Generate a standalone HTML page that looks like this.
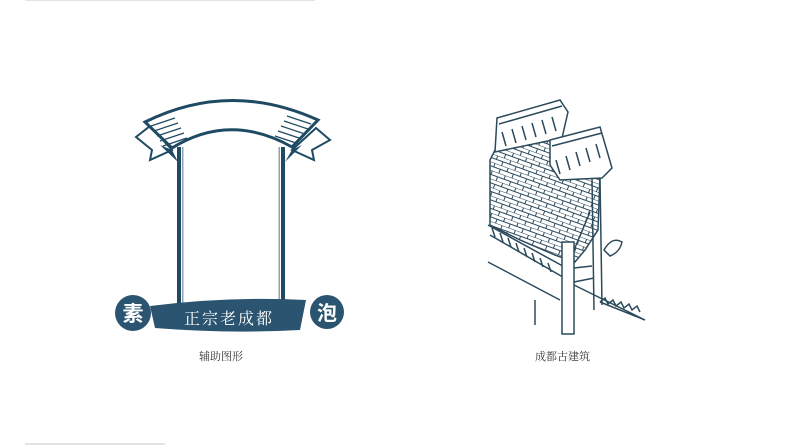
<!DOCTYPE html>
<html><head><meta charset="utf-8"><style>
html,body{margin:0;padding:0;background:#fff;width:800px;height:445px;overflow:hidden}
.cap{position:absolute;font-family:"Liberation Serif","Noto Serif CJK SC",serif;font-size:11px;color:#333}
</style></head><body>
<svg width="800" height="445" style="position:absolute;left:0;top:0">
<defs>
<pattern id="brick" width="14" height="8" patternUnits="userSpaceOnUse" patternTransform="rotate(20)">
<path d="M0 0H14M0 4H14M3 0V4M10 4V8" stroke="#2c4a5c" stroke-width="1" fill="none"/>
</pattern>
</defs>
<rect x="25" y="0" width="290" height="1" fill="#e4e4e4"/>
<rect x="25" y="443" width="140" height="2" fill="#e4e4e4"/>
<!-- ribbon tails -->
<polygon points="136,137 150,126 172,150 150,160 152,150" fill="#fff" stroke="#1f4a63" stroke-width="2"/>
<polygon points="330,140 316,128 292,150 314,160 312,150" fill="#fff" stroke="#1f4a63" stroke-width="2"/>
<polygon points="160,145 172,150 178,162" fill="#1f4a63"/>
<polygon points="302,145 292,150 285,162" fill="#1f4a63"/>
<path d="M145,122 Q230,80 318,120 L292,147 Q230,112 172,148 Z" fill="#fff" stroke="#1f4a63" stroke-width="3"/>
<g stroke="#1f4a63" stroke-width="1.2">
<path d="M151,126 L175,118 M154,131 L178,123 M157,136 L181,128 M160,141 L184,133 M163,146 L187,138"/>
<path d="M311,124 L287,116 M308,129 L284,121 M305,134 L281,126 M302,139 L278,131 M299,144 L275,136"/>
</g>
<rect x="177" y="147" width="4" height="160" fill="#1f4a63"/>
<rect x="182" y="147" width="1.5" height="160" fill="#8fa3b0"/>
<rect x="281" y="147" width="4" height="160" fill="#1f4a63"/>
<rect x="278.5" y="147" width="1.5" height="160" fill="#8fa3b0"/>
<path d="M150,306 Q230,296 306,300 L300,330 Q230,334 155,328 Z" fill="#2a5470"/>
<circle cx="133" cy="313" r="18" fill="#2a5470"/>
<circle cx="327" cy="312" r="17" fill="#2a5470"/>
<text x="133" y="321" text-anchor="middle" font-family="Liberation Sans,'Noto Sans CJK SC',sans-serif" font-weight="bold" font-size="21" fill="#fff">素</text>
<text x="327" y="320" text-anchor="middle" font-family="Liberation Sans,'Noto Sans CJK SC',sans-serif" font-weight="bold" font-size="20" fill="#fff">泡</text>
<text x="229" y="324" text-anchor="middle" font-family="Liberation Serif,'Noto Serif CJK SC',serif" font-size="16" letter-spacing="2" fill="#fff">正宗老成都</text>
<!-- building -->
<g stroke="#2c4a5c" stroke-width="1.5" fill="none">
<polygon points="495,150 560,135 575,150 600,175 598,230 585,250 575,262 555,255 520,240 490,225 490,160" fill="url(#brick)"/>
<path d="M497,118 L560,100 L568,112 L562,138 L495,152 Z" fill="#fff"/>
<path d="M499,124 L562,106"/>
<path d="M502,132 l4,14 M512,129 l4,14 M522,126 l4,14 M532,123 l4,14 M542,120 l4,14 M552,117 l4,14"/>
<path d="M550,140 L600,127 L612,168 L602,178 L560,180 L550,165 Z" fill="#fff"/>
<path d="M552,146 L602,133"/>
<path d="M556,160 l4,14 M566,156 l4,14 M576,152 l4,14 M586,148 l4,14 M596,144 l4,14"/>
<path d="M488,225 L570,270 M490,235 L568,280 M488,262 L560,300"/>
<path d="M492,228 l3,9 M500,233 l3,9 M508,238 l3,9 M516,243 l3,9 M524,248 l3,9 M532,253 l3,9 M540,258 l3,9 M548,263 l3,9"/>
<rect x="562" y="242" width="12" height="92" fill="#fff"/>
<path d="M592,178 L594,310 M600,178 L602,305"/>
<path d="M574,250 L590,212 M574,282 L594,278 M574,268 L592,266"/>
<path d="M574,285 L645,320 L600,302"/>
<path d="M600,302 l5,-4 l3,6 l5,-4 l3,6 l5,-4 l3,6 l5,-4 l3,6 l5,-4 l3,6"/>
<path d="M604,250 q8,-14 18,-8 q-2,10 -12,14 z"/>
<path d="M535,300 L535,325"/>
</g>
</svg>
<div class="cap" style="left:199px;top:348px">辅助图形</div>
<div class="cap" style="left:535px;top:348px">成都古建筑</div>
</body></html>
